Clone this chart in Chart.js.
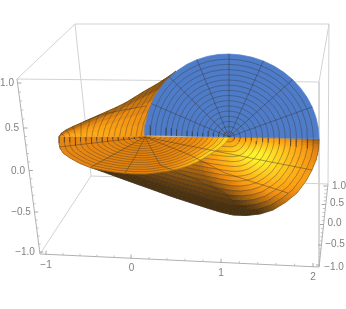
<!DOCTYPE html>
<html>
<head>
<meta charset="utf-8">
<style>
html, body { margin: 0; padding: 0; background: #fff; }
canvas { display: block; }
</style>
<script src="https://cdn.jsdelivr.net/npm/chart.js@4"></script>
</head>
<body>
<canvas id="myChart" width="346" height="309"></canvas>
<script>
// tick labels
const xTickLabels = ['\u22121', '0', '1', '2'];
const yTickLabels = ['1.0', '0.5', '0.0', '\u22120.5', '\u22121.0'];
const zTickLabels = ['1.0', '0.5', '0.0', '\u22120.5', '\u22121.0'];

// where the ticks and labels were read in the picture, in plot units
const xTickAt = [[46, 254.6], [131, 258.6], [221, 262.8], [313, 267]];
const xLabelAt = [[46, 265], [131.5, 268.5], [221, 273], [313, 277]];
const yTickAt = [[327.3, 186], [325.6, 204.5], [323.8, 224.5], [322, 245], [320, 265]];
const yLabelAt = [[339, 186], [337, 203.5], [334.5, 223], [335, 244], [334, 267]];
const zTickAt = [[17.5, 83], [23.3, 128], [28.9, 170.5], [34.2, 212], [39.4, 252]];
const zLabelAt = [[7, 83], [12, 128], [18, 171], [21, 212], [25, 252]];

// 3D box corners as seen in the picture
const boxBack = [[75, 24], [329, 24], [328, 184], [91, 176]];
const boxFront = [[17, 79], [319, 82], [319, 267], [40, 254]];

// mesh fractions
const ringFractions = [0, 0.0625, 0.125, 0.1875, 0.25, 0.3125, 0.375, 0.4375, 0.5, 0.5625, 0.625, 0.6875, 0.75, 0.8125, 0.875, 0.9375, 1];
const spokeDegrees = [22.5, 45, 67.5, 90, 112.5, 135, 157.5];
const arcDegrees = [0, 7.5, 15, 22.5, 30, 37.5, 45, 52.5, 60, 67.5, 75, 82.5, 90, 97.5, 105, 112.5, 120, 127.5, 135, 142.5, 150, 157.5, 165, 172.5, 180];

// blue half disc
const discCenter = [229, 137];
const discRadii = [90, 83, 84]; // right, up, left

// lower shell, outer edge from the right side round the bottom to the left
const shellEdgeX = [319, 318.5, 316, 312, 306, 297, 286, 273, 260, 246, 233, 220, 207, 190, 173, 155, 138, 120, 105, 91];
const shellEdgeY = [139, 150, 160, 170, 181, 193, 202, 210, 214, 215.5, 215, 212, 208, 202.5, 197, 190.5, 184.5, 178, 172.5, 167.5];
const shellCenterX = [229, 229, 229, 229, 229, 229, 229, 229, 229, 229, 229, 222, 214, 204, 194, 184, 174, 164, 154, 145];

// flat orange plate around the second centre
const plateCenter = [145, 137];
const plateEdgeX = [59, 59, 60, 63, 70, 80, 90, 104, 117, 131, 145, 155, 163, 172, 180, 189, 197, 205, 212, 219, 225, 229];
const plateEdgeY = [137, 143, 148, 153, 158, 163.5, 167.5, 170.5, 172.5, 173.8, 174, 173, 171.8, 170.5, 168.5, 165.5, 162, 157.5, 153, 148.5, 143.5, 138];

// outer surface behind the disc
const outerBaseX = [59, 64.5, 70, 75.5, 81, 86.5, 92, 97.5, 103, 108.5, 114, 119.5, 125, 130.5, 136, 141, 146];
const outerTopX = [59, 61, 66, 73, 81, 90, 99, 108, 117, 126, 135, 143, 150, 157, 164, 170, 176];
const outerTopY = [137, 133.5, 130, 126.5, 123, 119, 115, 111, 107, 102.5, 97, 92, 88, 84, 79.5, 75.5, 71];
const outerRows = [0, 0.2, 0.4, 0.6, 0.8, 1];

// long mesh lines across the orange parts
const orangeSpokes = [
    [[145, 137], [225, 153], [312, 170]],
    [[145, 137], [190, 155], [225, 173], [288, 193]],
    [[145, 137], [160, 165], [192, 178], [225, 193], [245, 215]],
    [[145, 137], [135, 157], [125, 173]],
    [[145, 137], [91, 167]],
    [[145, 137], [59, 147]],
    [[146, 106], [118, 111], [100, 115], [83, 122]]
];

const colorStops = [
    [0, 51, 35, 15], [0.2, 110, 69, 16], [0.4, 181, 108, 15], [0.55, 232, 134, 15],
    [0.7, 253, 165, 20], [0.85, 255, 203, 28], [1, 255, 240, 42]
];

function tone(t) {
    t = Math.max(0, Math.min(1, t));
    for (let i = 1; i < colorStops.length; i++) {
        if (t <= colorStops[i][0]) {
            const a = colorStops[i - 1], b = colorStops[i];
            const k = (t - a[0]) / (b[0] - a[0]);
            return `rgb(${Math.round(a[1] + (b[1] - a[1]) * k)},${Math.round(a[2] + (b[2] - a[2]) * k)},${Math.round(a[3] + (b[3] - a[3]) * k)})`;
        }
    }
    return 'rgb(255,240,42)';
}

function shellTone(x, y, r) {
    const dx = (x - 255) / 78;
    const dy = y < 155 ? (y - 155) / 26 : Math.max(0, y - 155 - (x - 250) * 0.28) / 46;
    const q = Math.hypot(dx, dy);
    const glow = Math.max(0.08, 1.05 - 0.6 * q - Math.max(0, q - 0.7) * 0.5);
    const side = Math.min(0.72 - 0.7 * r, 0.45 + (y - 138) * 0.03);
    return tone(Math.max(glow, side));
}

function plateTone(x, y, r) {
    const along = Math.max(0, Math.min(1, (x - 160) / 50));
    return tone(0.54 + 0.4 * Math.pow(r, 4) * along);
}

function outerTone(u, v) {
    return tone(0.73 - 0.42 * v * v - 0.2 * Math.max(0, u - 0.45));
}

const lineColor = 'rgba(50,50,50,0.5)';
const surfaceSets = [];

function addCell(points, color) {
    surfaceSets.push({
        data: points.concat([points[0]]),
        showLine: true, pointRadius: 0,
        fill: 'shape', backgroundColor: color,
        borderColor: color, borderWidth: 0.7
    });
}

function addLines(lines, color, width) {
    const data = [];
    lines.forEach(line => {
        line.forEach(p => data.push({ x: p[0], y: p[1] }));
        data.push({ x: NaN, y: NaN });
    });
    surfaceSets.push({
        data: data, showLine: true, pointRadius: 0,
        fill: false, borderColor: color, borderWidth: width
    });
}

// box and axes
addLines([
    [boxFront[0], boxBack[0], boxBack[1], boxFront[1], boxFront[0]],
    [boxBack[0], boxBack[3], boxBack[2], boxBack[1]],
    [boxBack[3], boxFront[3]],
    [boxFront[1], boxFront[2]]
], '#d2d2d2', 1);
addLines([
    [boxFront[0], boxFront[3], boxFront[2], boxBack[2]]
], '#b0b0b0', 1);

// ticks: four small ones between each pair of big ones
function mix(a, b, k) { return [a[0] + (b[0] - a[0]) * k, a[1] + (b[1] - a[1]) * k]; }
const tickSteps = [0.2, 0.4, 0.6, 0.8];
function addTicks(anchors, dir) {
    const big = [], small = [];
    anchors.forEach((a, i) => {
        big.push([a, [a[0] + dir[0] * 4, a[1] + dir[1] * 4]]);
        if (i < anchors.length - 1) {
            tickSteps.forEach(k => {
                const p = mix(a, anchors[i + 1], k);
                small.push([p, [p[0] + dir[0] * 2.4, p[1] + dir[1] * 2.4]]);
            });
        }
    });
    addLines(big, '#a6a6a6', 1);
    addLines(small, '#bdbdbd', 0.9);
}
addTicks(xTickAt, [0, -1]);
addTicks(yTickAt, [-1, 0]);
addTicks(zTickAt, [1, 0]);

// fill cells are cut finer than the mesh so the shading stays smooth
const fillCuts = [0, 0.25, 0.5, 0.75, 1];

function fillRings(count, ringAt, toneAt) {
    for (let i = 0; i < count - 1; i++) {
        for (let c = 0; c < fillCuts.length - 1; c++) {
            const f0 = i + fillCuts[c], f1 = i + fillCuts[c + 1];
            for (let j = 0; j < ringFractions.length - 1; j++) {
                const a = ringFractions[j], b = ringFractions[j + 1];
                const p = [ringAt(f0, a), ringAt(f1, a), ringAt(f1, b), ringAt(f0, b)];
                const mx = (p[0][0] + p[2][0]) / 2, my = (p[0][1] + p[2][1]) / 2;
                addCell(p.map(q => ({ x: q[0], y: q[1] })), toneAt(mx, my, (a + b) / 2));
            }
        }
    }
}

function along(arr, f) {
    const i = Math.min(Math.floor(f), arr.length - 2);
    return arr[i] + (arr[i + 1] - arr[i]) * (f - i);
}

// lower shell
const shellRing = (f, r) => {
    const cx = along(shellCenterX, f);
    return [cx + (along(shellEdgeX, f) - cx) * r, 137 + (along(shellEdgeY, f) - 137) * r];
};
fillRings(shellEdgeX.length, shellRing, shellTone);
addLines(ringFractions.slice(1).map(r => shellEdgeX.map((_, i) => shellRing(i, r))), lineColor, 0.75);

// outer surface
const outerPoint = (i, v) => [
    outerBaseX[i] + (outerTopX[i] - outerBaseX[i]) * Math.pow(v, 1.6),
    136.5 + (outerTopY[i] - 136.5) * v
];
for (let i = 0; i < outerBaseX.length - 1; i++) {
    for (let j = 0; j < outerRows.length - 1; j++) {
        const a = outerRows[j], b = outerRows[j + 1];
        const p = [outerPoint(i, a), outerPoint(i + 1, a), outerPoint(i + 1, b), outerPoint(i, b)];
        addCell(p.map(q => ({ x: q[0], y: q[1] })), outerTone((i + 0.5) / 16, (a + b) / 2));
    }
}
addLines(outerBaseX.map((_, i) => outerRows.map(v => outerPoint(i, v))), lineColor, 0.75);
addLines([outerTopX.map((x, i) => [x, outerTopY[i]])], 'rgba(90,55,10,0.7)', 0.8);

// plate
const plateRing = (f, r) => [
    plateCenter[0] + (along(plateEdgeX, f) - plateCenter[0]) * r,
    plateCenter[1] + (along(plateEdgeY, f) - plateCenter[1]) * r
];
fillRings(plateEdgeX.length, plateRing, plateTone);
addLines(ringFractions.slice(1).map(r => plateEdgeX.map((_, i) => plateRing(i, r))), lineColor, 0.7);
addLines(orangeSpokes, lineColor, 0.85);

// blue half disc
function discPoint(deg, r) {
    const a = deg * Math.PI / 180;
    const c = Math.cos(a), s = Math.sin(a);
    const x = discCenter[0] + r * c * (c >= 0 ? discRadii[0] : discRadii[2]);
    return [x, discCenter[1] + (x - discCenter[0]) * 0.02 - r * s * discRadii[1]];
}
addCell(arcDegrees.map(d => {
    const p = discPoint(d, 1);
    return { x: p[0], y: p[1] };
}), '#4f7cc8');
addLines(ringFractions.slice(1, 16).map(r => arcDegrees.map(d => discPoint(d, r))), lineColor, 0.75);
addLines(spokeDegrees.map(d => [discPoint(d, 0), discPoint(d, 1)]), lineColor, 0.85);

const tickText = {
    id: 'tickText',
    afterDraw(chart) {
        const { ctx, scales } = chart;
        ctx.save();
        ctx.font = '10px "Liberation Sans"';
        ctx.fillStyle = '#808080';
        ctx.textAlign = 'center';
        ctx.textBaseline = 'middle';
        const put = (labels, spots) => labels.forEach((t, i) => {
            ctx.fillText(t, scales.x.getPixelForValue(spots[i][0]), scales.y.getPixelForValue(spots[i][1]));
        });
        put(xTickLabels, xLabelAt);
        put(yTickLabels, yLabelAt);
        put(zTickLabels, zLabelAt);
        ctx.restore();
    }
};

// chart.js paints the first dataset last, so the list goes in reversed
new Chart(document.getElementById('myChart').getContext('2d'), {
    type: 'scatter',
    data: { datasets: surfaceSets.slice().reverse() },
    options: {
        responsive: false,
        animation: false,
        events: [],
        layout: { padding: 0 },
        plugins: { legend: { display: false }, tooltip: { enabled: false } },
        scales: {
            x: { type: 'linear', min: 0, max: 346, display: false },
            y: { type: 'linear', min: 0, max: 309, reverse: true, display: false }
        }
    },
    plugins: [tickText]
});
</script>
</body>
</html>
